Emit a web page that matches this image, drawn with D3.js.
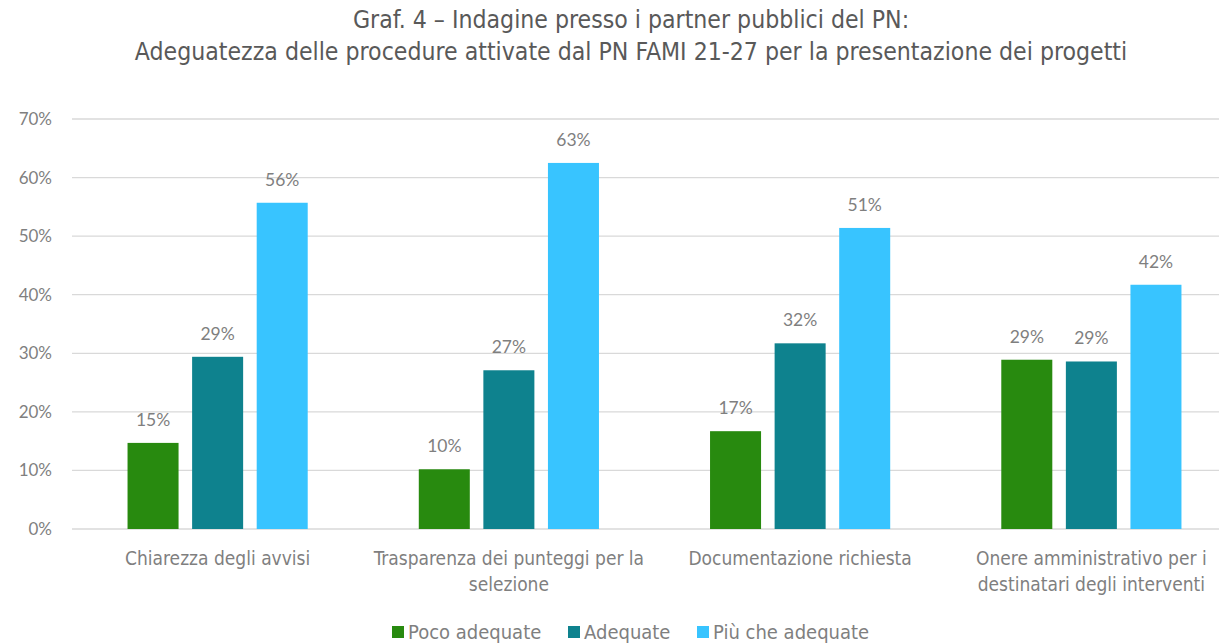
<!DOCTYPE html>
<html>
<head>
<meta charset="utf-8">
<script src="https://cdn.jsdelivr.net/npm/d3@7"></script>
<style>
  body { margin: 0; background: #fff; }
  svg { display: block; }
</style>
</head>
<body>
<div id="chart"></div>
<script>
// Chart data
var categories = [
    'Chiarezza degli avvisi',
    'Trasparenza dei punteggi per la selezione',
    'Documentazione richiesta',
    'Onere amministrativo per i destinatari degli interventi'
];
var seriesNames = ['Poco adequate', 'Adequate', 'Più che adequate'];
var pocoAdeguate = [14.7, 10.2, 16.7, 28.9];
var adeguate = [29.4, 27.1, 31.7, 28.6];
var piuCheAdeguate = [55.7, 62.5, 51.4, 41.7];
var yTicks = [0, 10, 20, 30, 40, 50, 60, 70];
var titleLines = [
    'Graf. 4 \u2013 Indagine presso i partner pubblici del PN:',
    'Adeguatezza delle procedure attivate dal PN FAMI 21-27 per la presentazione dei progetti'
];

var colors = ['#288a0f', '#0e828e', '#38c4ff'];
var seriesValues = [pocoAdeguate, adeguate, piuCheAdeguate];

var width = 1219, height = 643;
var condensed = '"DejaVu Sans Condensed", sans-serif';
var plain = 'Lato, "Open Sans", sans-serif';

// Build a flat table for the bars
var table = [];
categories.forEach(function(c, i) {
    seriesNames.forEach(function(s, j) {
        table.push({ cat: c, series: s, value: seriesValues[j][i], idx: j });
    });
});

var svg = d3.select('#chart').append('svg')
    .attr('width', width)
    .attr('height', height);

// Scales
var x0 = d3.scaleBand().domain(categories).range([72, 1237]).paddingInner(0).paddingOuter(0);
var x1 = d3.scaleBand().domain(seriesNames).range([0, x0.bandwidth()]).paddingInner(0.21).paddingOuter(0.86);
var y = d3.scaleLinear().domain([0, 70]).range([529, 119]);

// Title
svg.append('g').selectAll('text')
    .data(titleLines)
    .enter().append('text')
    .attr('x', 631)
    .attr('y', function(d, i) { return 28 + i * 32; })
    .attr('text-anchor', 'middle')
    .style('font', '24.6px ' + condensed)
    .attr('fill', '#595959')
    .text(function(d) { return d; });

// Gridlines
svg.append('g').selectAll('line')
    .data(yTicks)
    .enter().append('line')
    .attr('x1', 72).attr('x2', width)
    .attr('y1', function(d) { return y(d); })
    .attr('y2', function(d) { return y(d); })
    .attr('stroke', '#d9d9d9')
    .attr('stroke-width', 1.3);

// Y axis labels
var yAxis = svg.append('g')
    .attr('transform', 'translate(52,0)')
    .call(d3.axisLeft(y).tickValues(yTicks).tickSize(0).tickPadding(0)
        .tickFormat(function(d) { return d + '%'; }));
yAxis.select('.domain').remove();
yAxis.selectAll('text')
    .style('font', '17px ' + plain)
    .attr('fill', '#7f7f7f');

// Bars
svg.append('g').selectAll('rect')
    .data(table)
    .enter().append('rect')
    .attr('x', function(d) { return x0(d.cat) + x1(d.series); })
    .attr('y', function(d) { return y(d.value); })
    .attr('width', x1.bandwidth())
    .attr('height', function(d) { return y(0) - y(d.value); })
    .attr('fill', function(d) { return colors[d.idx]; });

// Value labels
svg.append('g').selectAll('text')
    .data(table)
    .enter().append('text')
    .attr('x', function(d) { return x0(d.cat) + x1(d.series) + x1.bandwidth() / 2; })
    .attr('y', function(d) { return y(d.value) - 17; })
    .attr('text-anchor', 'middle')
    .style('font', '17.5px ' + plain)
    .attr('fill', '#7f7f7f')
    .text(function(d) { return Math.round(d.value) + '%'; });

// Category labels, wrapped to the band width
var catLabels = svg.append('g').selectAll('text')
    .data(categories)
    .enter().append('text')
    .attr('x', function(d) { return x0(d) + x0.bandwidth() / 2; })
    .attr('y', 565)
    .attr('text-anchor', 'middle')
    .style('font', '19px ' + condensed)
    .attr('fill', '#7f7f7f');

catLabels.each(function(d) {
    var el = d3.select(this);
    var words = d.split(' ');
    var lines = [], line = [];
    words.forEach(function(w) {
        line.push(w);
        el.text(line.join(' '));
        if (el.node().getComputedTextLength() > 290 && line.length > 1) {
            line.pop();
            lines.push(line.join(' '));
            line = [w];
        }
    });
    lines.push(line.join(' '));
    el.text(null);
    lines.forEach(function(l, i) {
        el.append('tspan')
            .attr('x', el.attr('x'))
            .attr('dy', i === 0 ? 0 : 26)
            .text(l);
    });
});

// Legend
var legendX = [392, 568, 697];
var legend = svg.append('g').selectAll('g')
    .data(seriesNames)
    .enter().append('g')
    .attr('transform', function(d, i) { return 'translate(' + legendX[i] + ',626)'; });
legend.append('rect')
    .attr('width', 12).attr('height', 12)
    .attr('fill', function(d, i) { return colors[i]; });
legend.append('text')
    .attr('x', 16).attr('y', 13)
    .style('font', '20px ' + condensed)
    .attr('fill', '#7f7f7f')
    .text(function(d) { return d; });
</script>
</body>
</html>
